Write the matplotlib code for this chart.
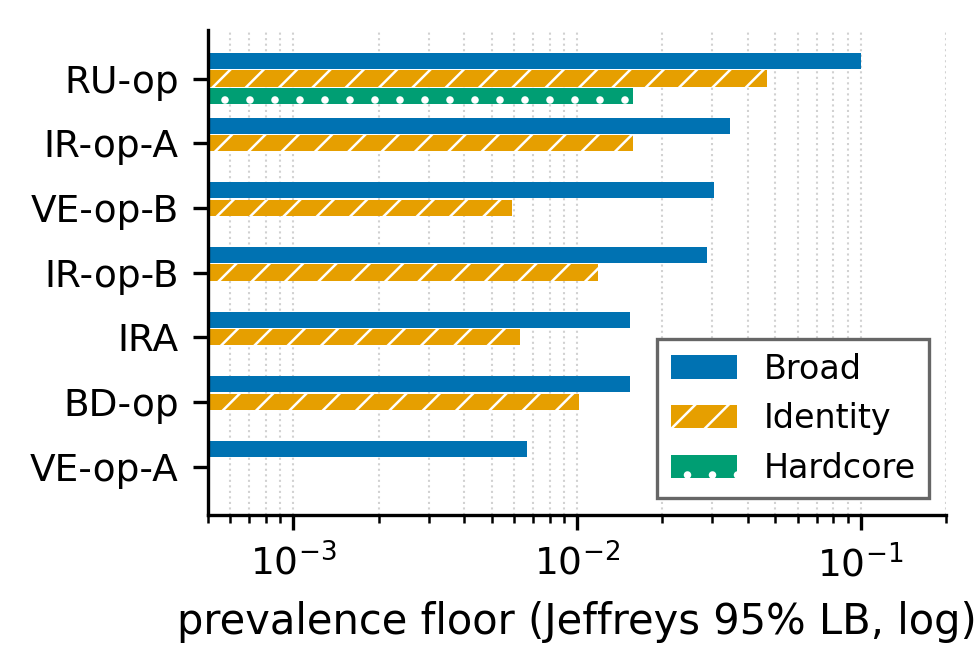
import numpy as np
import matplotlib
matplotlib.use("Agg")
import matplotlib.pyplot as plt

categories = ["RU-op", "IR-op-A", "VE-op-B", "IR-op-B", "IRA", "BD-op", "VE-op-A"]
broad = [0.100, 0.0346, 0.0304, 0.0287, 0.0154, 0.0154, 0.00667]
identity = [0.0467, 0.0157, 0.0059, 0.0119, 0.0063, 0.0102, None]
hardcore = [0.0157, None, None, None, None, None, None]

C_BROAD = "#0072B2"
C_IDENT = "#E69F00"
C_HARD = "#009E73"

plt.rcParams["hatch.linewidth"] = 0.6
plt.rcParams["hatch.color"] = "white"

fig = plt.figure(figsize=(3.25, 2.24), dpi=300)
ax = fig.add_axes([0.2133, 0.2336, 0.7570, 0.7217])

h = 0.25
off = 0.27
y = np.arange(len(categories))

def bars(vals, dy, color, hatch, label):
    # skip missing values, keep the slot offset per series
    ys = [yy + dy for yy, v in zip(y, vals) if v is not None]
    ws = [v for v in vals if v is not None]
    ax.barh(ys, ws, height=h, left=0, color=color, hatch=hatch,
            edgecolor="white", linewidth=0, label=label, zorder=2)

bars(broad, -off, C_BROAD, None, "Broad")
bars(identity, 0.0, C_IDENT, "///", "Identity")
bars(hardcore, off, C_HARD, "..", "Hardcore")

ax.set_xscale("log")
ax.set_xlim(5e-4, 0.2)
ax.set_ylim(6.75, -0.75)
ax.set_yticks(y)
ax.set_yticklabels(categories, fontsize=9)
ax.tick_params(axis="x", labelsize=9)
ax.set_xlabel("prevalence floor (Jeffreys 95% LB, log)", fontsize=10)
ax.grid(True, which="both", axis="x", linestyle=":", linewidth=0.5, color="0.82", zorder=0)
ax.set_axisbelow(True)
for s in ("top", "right"):
    ax.spines[s].set_visible(False)

leg = ax.legend(loc="lower right", fontsize=8, fancybox=False, framealpha=1,
                edgecolor="0.4", borderaxespad=0.5)
leg.get_frame().set_linewidth(0.8)

fig.savefig("out.png", dpi=300)
